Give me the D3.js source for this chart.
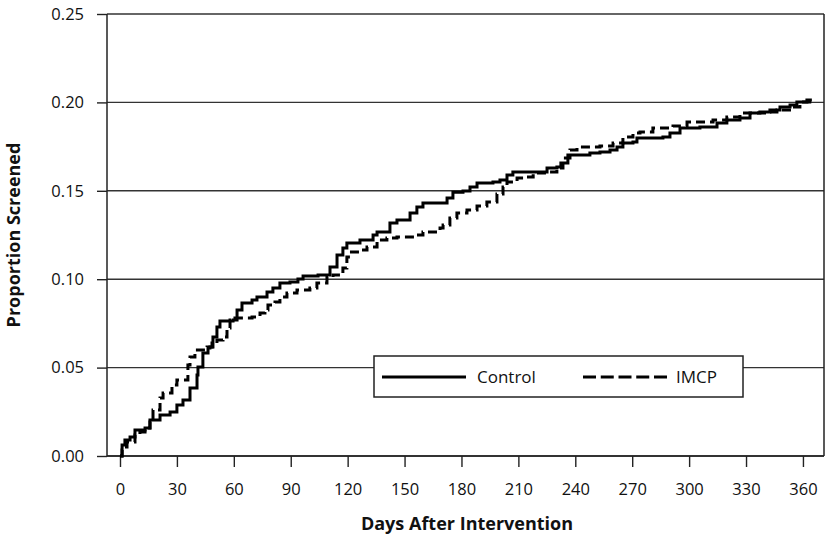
<!DOCTYPE html>
<html><head><meta charset="utf-8">
<script src="https://cdn.jsdelivr.net/npm/d3@7"></script>
<style>
body{margin:0;background:#fff;}
text{font-family:"Open Sans",sans-serif;}
</style></head>
<body><svg id="chart" width="827" height="538"></svg>
<script>
const xTicks = [0,30,60,90,120,150,180,210,240,270,300,330,360];
const yTicks = [0,0.05,0.10,0.15,0.20,0.25];
const seriesNames = ["Control","IMCP"];
const controlDays = [0,1.1,2.6,5.3,7.9,13.2,15.8,21.1,26.4,30.0,33.2,36.9,40.6,41.1,43.7,46.4,47.4,49.0,51.1,52.7,59.6,61.7,64.3,69.6,72.2,77.5,80.6,84.3,89.6,93.8,96.5,104.4,110.7,114.4,117.5,119.6,126.5,133.4,135.5,142.3,146.0,152.9,156.5,159.7,172.4,175.5,180.8,184.5,188.2,196.6,200.3,204.0,207.1,225.1,230.3,232.4,236.1,247.7,253.0,258.3,262.0,265.1,270.4,272.5,286.2,289.9,295.2,305.7,314.7,319.9,326.8,332.1,337.3,342.6,347.9,353.2,356.8,362.1,364.7];
const controlVals = [0,0.0062,0.0090,0.0107,0.0147,0.0158,0.0204,0.0232,0.0249,0.0288,0.0317,0.0385,0.0458,0.0503,0.0583,0.0611,0.0617,0.0673,0.0730,0.0764,0.0769,0.0826,0.0865,0.0882,0.0899,0.0928,0.0950,0.0978,0.0984,0.1001,0.1018,0.1024,0.1069,0.1137,0.1176,0.1205,0.1222,0.1250,0.1267,0.1318,0.1335,0.1374,0.1408,0.1431,0.1459,0.1492,0.1499,0.1522,0.1544,0.1550,0.1561,0.1589,0.1606,0.1629,0.1635,0.1657,0.1702,0.1714,0.1719,0.1731,0.1748,0.1770,0.1776,0.1799,0.1804,0.1827,0.1855,0.1861,0.1884,0.1900,0.1912,0.1940,0.1946,0.1957,0.1974,0.1985,0.2002,0.2014,0.2014];
const imcpDays = [0,1.1,2.6,3.7,7.9,10.5,13.2,15.8,17.4,21.1,22.7,27.4,30.0,35.8,36.9,39.5,45.9,48.5,51.1,54.3,56.4,58.0,60.6,69.6,73.8,76.4,78.0,81.7,84.3,88.0,93.3,100.1,103.8,109.1,112.3,117.5,119.6,121.2,126.5,130.2,135.5,140.7,146.0,156.5,159.7,168.7,170.3,173.9,177.6,182.9,188.2,193.4,198.7,201.9,204.0,209.3,212.5,217.8,225.1,230.3,233.5,237.2,240.9,253.0,259.9,265.1,270.4,274.1,280.9,291.5,298.9,312.6,319.9,326.8,341.0,346.3,354.7,358.4,363.6,364.7];
const imcpVals = [0,0.0034,0.0051,0.0079,0.0119,0.0136,0.0158,0.0192,0.0260,0.0328,0.0356,0.0402,0.0430,0.0515,0.0560,0.0600,0.0617,0.0639,0.0656,0.0673,0.0724,0.0769,0.0781,0.0786,0.0809,0.0826,0.0854,0.0871,0.0899,0.0922,0.0939,0.0950,0.0978,0.1012,0.1024,0.1063,0.1126,0.1154,0.1165,0.1182,0.1222,0.1233,0.1239,0.1250,0.1267,0.1290,0.1307,0.1346,0.1374,0.1391,0.1414,0.1437,0.1482,0.1522,0.1550,0.1572,0.1578,0.1601,0.1606,0.1629,0.1686,0.1731,0.1748,0.1753,0.1770,0.1804,0.1827,0.1833,0.1855,0.1867,0.1889,0.1900,0.1917,0.1940,0.1946,0.1957,0.1974,0.2002,0.2014,0.2014];

const svg = d3.select("#chart");
const L=107, R=824, T=14, B=456;
const x = d3.scaleLinear().domain([-6.85,371.1]).range([L,R]);
const y = d3.scaleLinear().domain([0,0.25]).range([B,T]);

// gridlines
svg.append("g").selectAll("line").data(yTicks).join("line")
  .attr("x1",L).attr("x2",R).attr("y1",d=>y(d)).attr("y2",d=>y(d))
  .attr("stroke","#333").attr("stroke-width",1.4);
// right border
svg.append("line").attr("x1",R).attr("x2",R).attr("y1",T).attr("y2",B).attr("stroke","#222").attr("stroke-width",1.5);

// axes
const yAxis = svg.append("g").attr("transform",`translate(${L},0)`)
  .call(d3.axisLeft(y).tickValues(yTicks).tickFormat(d3.format(".2f")).tickSize(10).tickPadding(13));
const xAxis = svg.append("g").attr("transform",`translate(0,${B})`)
  .call(d3.axisBottom(x).tickValues(xTicks).tickSize(11).tickPadding(16));
[yAxis,xAxis].forEach(a=>{
  a.select(".domain").attr("stroke","#222").attr("stroke-width",1.5);
  a.selectAll(".tick line").attr("stroke","#222").attr("stroke-width",1.4);
  a.selectAll("text").attr("font-size",16.5).attr("fill","#111").attr("font-family","Open Sans");
});
yAxis.select(".domain").attr("d",`M0,${B}V${T}`);
xAxis.select(".domain").attr("d",`M${L},0H${R}`);

// lines
const line = d3.line().x(d=>x(d[0])).y(d=>y(d[1])).curve(d3.curveStepAfter);
const ctrl = controlDays.map((d,i)=>[d,controlVals[i]]);
const imcp = imcpDays.map((d,i)=>[d,imcpVals[i]]);
svg.append("path").datum(ctrl).attr("d",line).attr("fill","none").attr("stroke","#000").attr("stroke-width",3);
svg.append("path").datum(imcp).attr("d",line).attr("fill","none").attr("stroke","#000").attr("stroke-width",3).attr("stroke-dasharray","9,5");

// legend
const lg = svg.append("g");
lg.append("rect").attr("x",374).attr("y",356).attr("width",369).attr("height",41)
  .attr("fill","#fff").attr("stroke","#222").attr("stroke-width",1.5);
lg.append("line").attr("x1",382).attr("x2",466).attr("y1",377).attr("y2",377).attr("stroke","#000").attr("stroke-width",3);
lg.append("text").attr("x",477).attr("y",383).attr("font-size",17).attr("fill","#111").text(seriesNames[0]);
lg.append("line").attr("x1",583).attr("x2",667).attr("y1",377).attr("y2",377).attr("stroke","#000").attr("stroke-width",3).attr("stroke-dasharray","13,4.75");
lg.append("text").attr("x",676).attr("y",383).attr("font-size",17).attr("fill","#111").text(seriesNames[1]);

// titles
svg.append("text").attr("x",467).attr("y",530).attr("text-anchor","middle")
  .attr("font-size",18).attr("font-weight","bold").attr("fill","#111").text("Days After Intervention");
svg.append("text").attr("transform","translate(20,235) rotate(-90)").attr("text-anchor","middle")
  .attr("font-size",18).attr("font-weight","bold").attr("fill","#111").text("Proportion Screened");
</script></body></html>
